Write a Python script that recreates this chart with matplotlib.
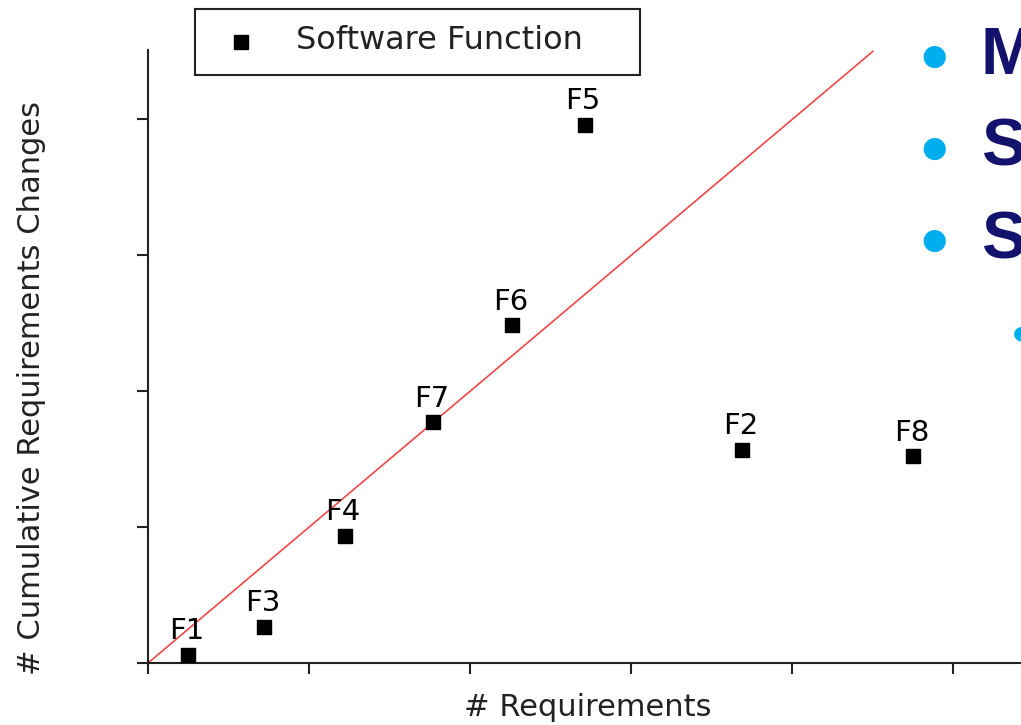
import matplotlib.pyplot as plt

plt.rcParams['font.family'] = ['DejaVu Sans']

# software functions: requirements vs cumulative requirement changes
labels = ['F1', 'F2', 'F3', 'F4', 'F5', 'F6', 'F7', 'F8']
n_reqs = [2.5, 36.9, 7.2, 12.2, 27.1, 22.6, 17.7, 47.5]
n_changes = [0.6, 15.7, 2.65, 9.35, 39.6, 24.85, 17.7, 15.2]
trend_x = [0, 45]
trend_y = [0, 45]
bullets = ['M', 'S', 'S']

fig = plt.figure(figsize=(10.21, 7.25), dpi=100)
ax = fig.add_axes([0.145, 0.0855, 0.855, 0.8455])

ax.plot(trend_x, trend_y, color='#f04848', lw=1.2, zorder=2)
ax.scatter(n_reqs, n_changes, marker='s', s=100, color='black', zorder=3)
for lab, x, y in zip(labels, n_reqs, n_changes):
    ax.annotate(lab, (x, y), xytext=(-1, 7), textcoords='offset points',
                ha='center', va='bottom', fontsize=21, color='black')

ax.set_xlim(0, 54.2)
ax.set_ylim(0, 45.1)
ax.set_xticks(range(0, 60, 10))
ax.set_yticks(range(0, 50, 10))
ax.set_xticklabels([])
ax.set_yticklabels([])
ax.tick_params(direction='out', length=8, width=1.5, color='#222222')
for s in ['top', 'right']:
    ax.spines[s].set_visible(False)
for s in ['left', 'bottom']:
    ax.spines[s].set_linewidth(1.5)
    ax.spines[s].set_color('#222222')

fig.text(0.576, 0.024, '# Requirements', ha='center', va='center',
         fontsize=22, color='#222222')
fig.text(0.031, 0.465, '# Cumulative Requirements Changes', ha='center',
         va='center', rotation=90, fontsize=22, color='#222222')

# legend box
leg = plt.Rectangle((0.191, 0.897), 0.436, 0.09, transform=fig.transFigure,
                    fill=False, edgecolor='#222222', lw=1.5)
fig.add_artist(leg)
fig.lines.append(plt.Line2D([0.236], [0.942], marker='s', markersize=10,
                            color='black', transform=fig.transFigure))
fig.text(0.29, 0.944, 'Software Function', ha='left', va='center',
         fontsize=23, color='#222222')

# overlapping slide bullets on the right
for i, b in enumerate(bullets):
    yy = 1 - (57 + i * 92) / 725
    fig.text(0.915, yy, '\u25cf', ha='center', va='center', fontsize=21,
             color='#00aeef')
    fig.text(0.9605, yy, b, ha='left', va='center', fontsize=48,
             fontweight='bold', color='#13136e', family='Liberation Sans')
fig.text(1.0, 1 - 333 / 725, '\u25cf', ha='center', va='center',
         fontsize=14, color='#00aeef')

fig.savefig('out.png', dpi=100)
